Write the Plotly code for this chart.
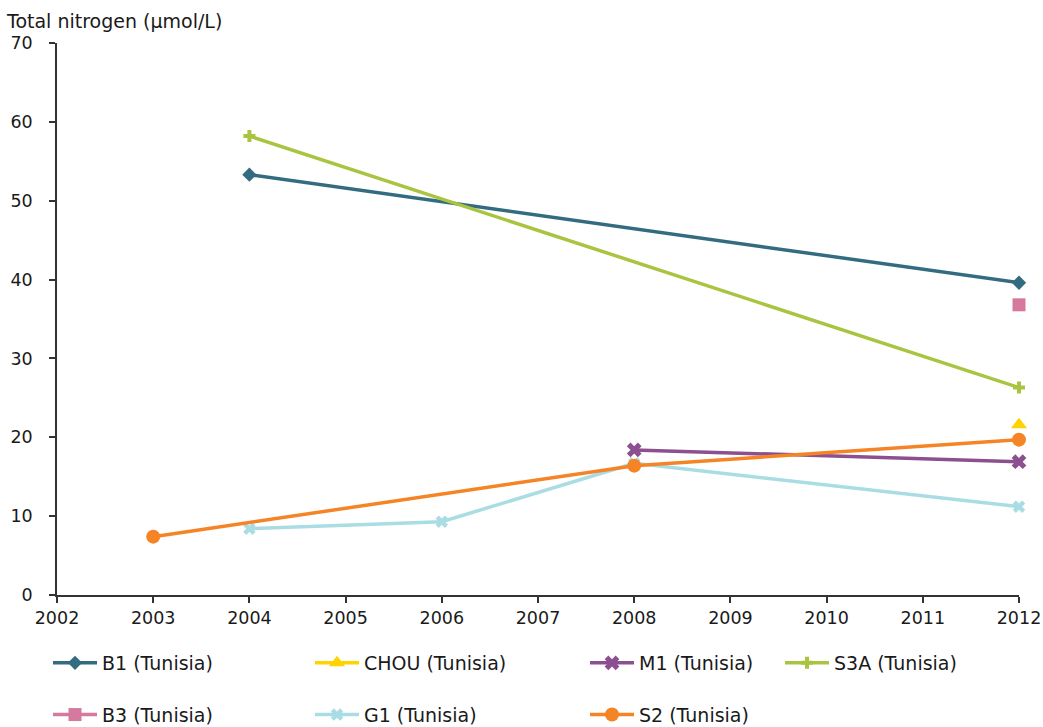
import plotly.graph_objects as go

# Total nitrogen concentrations per station (µmol/L)
b1_years = [2004, 2012]
b1_vals = [53.3, 39.6]

chou_years = [2012]
chou_vals = [21.6]

m1_years = [2008, 2012]
m1_vals = [18.4, 16.9]

s3a_years = [2004, 2012]
s3a_vals = [58.2, 26.3]

b3_years = [2012]
b3_vals = [36.8]

g1_years = [2004, 2006, 2008, 2012]
g1_vals = [8.4, 9.3, 16.7, 11.2]

s2_years = [2003, 2008, 2012]
s2_vals = [7.4, 16.4, 19.7]

x_ticks = list(range(2002, 2013))
y_ticks = list(range(0, 71, 10))

FONT = "DejaVu Sans, Verdana, sans-serif"
TEXT = "#1a1a1a"
TICK_SIZE = 17.5
LABEL_SIZE = 19

series = [
    # name, x, y, colour, symbol, marker size, legend
    ("B1 (Tunisia)", b1_years, b1_vals, "#336b80", "diamond", 11, "legend"),
    ("B3 (Tunisia)", b3_years, b3_vals, "#d6799f", "square", 13, "legend"),
    ("CHOU (Tunisia)", chou_years, chou_vals, "#ffd200", "triangle-up", 14, "legend2"),
    ("G1 (Tunisia)", g1_years, g1_vals, "#a9dde3", "x", 11, "legend2"),
    ("M1 (Tunisia)", m1_years, m1_vals, "#8c4f8f", "x", 13, "legend3"),
    ("S2 (Tunisia)", s2_years, s2_vals, "#f58426", "circle", 14, "legend3"),
    ("S3A (Tunisia)", s3a_years, s3a_vals, "#a9c440", "cross", 10, "legend4"),
]

draw_order = ["B1 (Tunisia)", "CHOU (Tunisia)", "M1 (Tunisia)", "S3A (Tunisia)",
              "B3 (Tunisia)", "G1 (Tunisia)", "S2 (Tunisia)"]

fig = go.Figure()
lookup = {s[0]: s for s in series}
for name in draw_order:
    _, xs, ys, col, sym, size, leg = lookup[name]
    fig.add_trace(go.Scatter(
        x=xs, y=ys, name=name, mode="lines+markers",
        line=dict(color=col, width=3.5),
        marker=dict(color=col, symbol=sym, size=size, line=dict(width=0)),
        legend=leg, legendgroup=name, cliponaxis=False,
        hoverinfo="x+y+name",
    ))

legend_common = dict(
    orientation="v", xref="container", yref="container",
    xanchor="left", yanchor="top",
    font=dict(family=FONT, size=LABEL_SIZE, color=TEXT),
    bgcolor="rgba(0,0,0,0)", borderwidth=0,
    tracegroupgap=24, itemwidth=44,
)
col_x = [48, 310, 585, 780]
legend_top = 1 - 644 / 727

fig.update_layout(
    width=1043, height=727,
    margin=dict(l=57, r=24, t=43, b=132, autoexpand=False),
    paper_bgcolor="white", plot_bgcolor="white",
    font=dict(family=FONT, size=LABEL_SIZE, color=TEXT),
    xaxis=dict(
        range=[2002, 2012], tickvals=x_ticks, ticktext=[str(t) for t in x_ticks],
        showgrid=False, zeroline=False, showline=True, linecolor="#333333", linewidth=1.5,
        ticks="outside", ticklen=6, tickcolor="#333333", tickwidth=1.5,
        ticklabeloverflow="allow",
        tickfont=dict(family=FONT, size=TICK_SIZE, color=TEXT),
    ),
    yaxis=dict(
        range=[0, 70], tickvals=y_ticks,
        showgrid=False, zeroline=False, showline=True, linecolor="#333333", linewidth=1.5,
        ticks="outside", ticklen=6, tickcolor="#333333", tickwidth=1.5,
        ticklabelstandoff=13, ticklabeloverflow="allow",
        tickfont=dict(family=FONT, size=TICK_SIZE, color=TEXT),
    ),
    legend=dict(legend_common, x=col_x[0] / 1043, y=legend_top),
    legend2=dict(legend_common, x=col_x[1] / 1043, y=legend_top),
    legend3=dict(legend_common, x=col_x[2] / 1043, y=legend_top),
    legend4=dict(legend_common, x=col_x[3] / 1043, y=legend_top),
    annotations=[dict(
        text="Total nitrogen (µmol/L)", xref="paper", yref="paper",
        x=-53 / 962, y=1, xanchor="left", yanchor="bottom", yshift=9,
        showarrow=False, font=dict(family=FONT, size=LABEL_SIZE, color=TEXT),
    )],
)

fig.write_html("out.html")
